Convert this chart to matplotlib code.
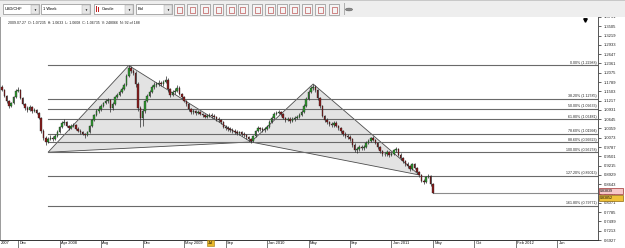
import matplotlib
matplotlib.use('Agg')
import matplotlib.pyplot as plt
from matplotlib.patches import Rectangle, Polygon
import numpy as np

plt.rcParams['font.family'] = ['Liberation Sans', 'DejaVu Sans']

# weekly USD/CHF candles
first_open = 1.1637
closes = [1.1545, 1.1360, 1.1206, 1.1052, 1.1144, 1.1329, 1.1514, 1.1545, 1.1298, 1.1114,
          1.0991, 1.0929, 1.1021, 1.0898, 1.0929, 1.0837, 1.0683, 1.0283, 1.0068, 0.9944,
          1.0037, 1.0068, 1.0037, 1.0129, 1.0252, 1.0406, 1.0529, 1.0560, 1.0437, 1.0375,
          1.0437, 1.0468, 1.0344, 1.0283, 1.0252, 1.0191, 1.0160, 1.0252, 1.0437, 1.0621,
          1.0775, 1.0898, 1.0960, 1.1052, 1.1144, 1.1206, 1.1237, 1.0991, 1.1114, 1.1329,
          1.1391, 1.1483, 1.1575, 1.1698, 1.1975, 1.2221, 1.2129, 1.2067, 1.1729, 1.0991,
          1.0683, 1.0898, 1.1206, 1.1360, 1.1483, 1.1637, 1.1698, 1.1729, 1.1760, 1.1729,
          1.1791, 1.1852, 1.1575, 1.1391, 1.1483, 1.1514, 1.1606, 1.1421, 1.1329, 1.1206,
          1.1114, 1.0960, 1.0868, 1.0898, 1.0837, 1.0868, 1.0806, 1.0775, 1.0714, 1.0744,
          1.0775, 1.0744, 1.0714, 1.0652, 1.0621, 1.0560, 1.0406, 1.0375, 1.0344, 1.0314,
          1.0283, 1.0252, 1.0221, 1.0240, 1.0191, 1.0160, 1.0098, 1.0037, 0.9975, 1.0129,
          1.0283, 1.0375, 1.0344, 1.0314, 1.0344, 1.0406, 1.0560, 1.0683, 1.0806, 1.0837,
          1.0868, 1.0806, 1.0683, 1.0621, 1.0652, 1.0591, 1.0652, 1.0683, 1.0714, 1.0775,
          1.0868, 1.1052, 1.1268, 1.1483, 1.1606, 1.1637, 1.1545, 1.1298, 1.1052, 1.0744,
          1.0621, 1.0560, 1.0498, 1.0470, 1.0530, 1.0437, 1.0375, 1.0283, 1.0191, 1.0129,
          1.0098, 1.0037, 0.9852, 0.9698, 0.9720, 0.9791, 0.9760, 0.9791, 0.9914, 0.9975,
          1.0068, 1.0006, 0.9914, 0.9791, 0.9667, 0.9575, 0.9560, 0.9637, 0.9544, 0.9575,
          0.9698, 0.9729, 0.9544, 0.9452, 0.9360, 0.9267, 0.9206, 0.9114, 0.9267, 0.9144,
          0.9021, 0.8929, 0.8744, 0.8713, 0.8867, 0.8898, 0.8652, 0.8375]
highs = [1.1700, 1.1580, 1.1400, 1.1240, 1.1190, 1.1370, 1.1560, 1.1640, 1.1580, 1.1340,
         1.1150, 1.1050, 1.1080, 1.1060, 1.0990, 1.0970, 1.0870, 1.0720, 1.0330, 1.0120,
         1.0090, 1.0150, 1.0120, 1.0180, 1.0300, 1.0450, 1.0590, 1.0640, 1.0600, 1.0480,
         1.0490, 1.0530, 1.0500, 1.0390, 1.0330, 1.0290, 1.0230, 1.0290, 1.0470, 1.0660,
         1.0820, 1.0950, 1.1040, 1.1100, 1.1190, 1.1270, 1.1300, 1.1280, 1.1170, 1.1370,
         1.1460, 1.1540, 1.1630, 1.1750, 1.2030, 1.2299, 1.2280, 1.2200, 1.2120, 1.1780,
         1.1050, 1.0960, 1.1250, 1.1420, 1.1540, 1.1700, 1.1780, 1.1800, 1.1840, 1.1810,
         1.1860, 1.1960, 1.1900, 1.1610, 1.1540, 1.1600, 1.1700, 1.1660, 1.1460, 1.1370,
         1.1250, 1.1150, 1.1000, 1.0960, 1.0940, 1.0930, 1.0910, 1.0850, 1.0820, 1.0800,
         1.0840, 1.0830, 1.0790, 1.0750, 1.0700, 1.0660, 1.0590, 1.0460, 1.0430, 1.0390,
         1.0360, 1.0330, 1.0310, 1.0290, 1.0280, 1.0240, 1.0190, 1.0130, 1.0080, 1.0170,
         1.0320, 1.0430, 1.0410, 1.0390, 1.0400, 1.0460, 1.0610, 1.0730, 1.0860, 1.0900,
         1.0940, 1.0900, 1.0840, 1.0720, 1.0710, 1.0700, 1.0700, 1.0750, 1.0770, 1.0830,
         1.0920, 1.1110, 1.1320, 1.1530, 1.1680, 1.1729, 1.1700, 1.1590, 1.1330, 1.1090,
         1.0780, 1.0670, 1.0600, 1.0560, 1.0580, 1.0590, 1.0480, 1.0410, 1.0320, 1.0240,
         1.0180, 1.0150, 1.0080, 0.9900, 0.9790, 0.9850, 0.9840, 0.9860, 0.9960, 1.0040,
         1.0100, 1.0120, 1.0050, 0.9950, 0.9820, 0.9700, 0.9640, 0.9690, 0.9680, 0.9640,
         0.9740, 0.9780, 0.9760, 0.9590, 0.9490, 0.9400, 0.9320, 0.9240, 0.9310, 0.9300,
         0.9180, 0.9060, 0.8960, 0.8800, 0.8900, 0.8950, 0.8930, 0.8680]
lows = [1.1500, 1.1320, 1.1150, 1.1000, 1.1020, 1.1110, 1.1300, 1.1470, 1.1260, 1.1080,
        1.0940, 1.0880, 1.0900, 1.0850, 1.0860, 1.0790, 1.0640, 1.0230, 1.0000, 0.9850,
        0.9900, 0.9990, 0.9980, 1.0000, 1.0100, 1.0220, 1.0380, 1.0480, 1.0400, 1.0320,
        1.0330, 1.0400, 1.0300, 1.0240, 1.0200, 1.0150, 1.0080, 1.0120, 1.0220, 1.0400,
        1.0590, 1.0740, 1.0850, 1.0910, 1.1010, 1.1100, 1.1150, 1.0870, 1.0940, 1.1090,
        1.1290, 1.1350, 1.1440, 1.1540, 1.1660, 1.1940, 1.2060, 1.2000, 1.1650, 1.0900,
        1.0400, 1.0450, 1.0850, 1.1170, 1.1320, 1.1440, 1.1590, 1.1640, 1.1680, 1.1660,
        1.1680, 1.1750, 1.1480, 1.1330, 1.1350, 1.1420, 1.1470, 1.1380, 1.1280, 1.1160,
        1.1060, 1.0910, 1.0810, 1.0820, 1.0780, 1.0800, 1.0760, 1.0720, 1.0670, 1.0680,
        1.0700, 1.0690, 1.0650, 1.0600, 1.0570, 1.0510, 1.0360, 1.0320, 1.0290, 1.0260,
        1.0220, 1.0200, 1.0170, 1.0150, 1.0140, 1.0100, 1.0040, 0.9970, 0.9914, 0.9950,
        1.0100, 1.0250, 1.0290, 1.0260, 1.0260, 1.0300, 1.0380, 1.0530, 1.0650, 1.0760,
        1.0790, 1.0750, 1.0640, 1.0570, 1.0580, 1.0540, 1.0550, 1.0600, 1.0640, 1.0680,
        1.0740, 1.0840, 1.1020, 1.1230, 1.1450, 1.1540, 1.1480, 1.1250, 1.1000, 1.0700,
        1.0560, 1.0500, 1.0440, 1.0420, 1.0400, 1.0390, 1.0320, 1.0230, 1.0140, 1.0080,
        1.0040, 0.9980, 0.9800, 0.9640, 0.9620, 0.9680, 0.9700, 0.9710, 0.9760, 0.9880,
        0.9940, 0.9960, 0.9870, 0.9740, 0.9620, 0.9520, 0.9500, 0.9520, 0.9490, 0.9500,
        0.9540, 0.9650, 0.9500, 0.9400, 0.9310, 0.9220, 0.9150, 0.9050, 0.9080, 0.9100,
        0.8980, 0.8880, 0.8700, 0.8650, 0.8680, 0.8830, 0.8600, 0.8360]
opens = [first_open] + closes[:-1]

# harmonic pattern X, A, B, C, D (candle index / price)
pattern_idx = [20, 55, 108, 135, 181]
pattern_px = [0.9628, 1.22988, 0.9944, 1.1729, 0.8930]

fib_names = ['0.00%', '38.20%', '50.00%', '61.80%', '78.60%', '88.60%', '100.00%', '127.20%', '161.80%']
fib_prices = [1.22988, 1.12785, 1.09633, 1.06481, 1.01994, 0.99323, 0.96278, 0.89013, 0.79771]

price_ticks = [1.3791, 1.3505, 1.3219, 1.2933, 1.2647, 1.2361, 1.2075, 1.1789, 1.1503,
               1.1217, 1.0931, 1.0645, 1.0359, 1.0073, 0.9787, 0.9501, 0.9215, 0.8929,
               0.8643, 0.8357, 0.8071, 0.7785, 0.7499, 0.7213, 0.6927]

date_idx = [7, 25, 43, 61, 79, 97, 115, 133, 151, 169, 187, 205, 223, 241]
date_names = ['Dec', 'Apr 2008', 'Aug', 'Dec', 'May 2009', 'Sep', 'Jan 2010', 'May', 'Sep',
              'Jan 2011', 'May', 'Oct', 'Feb 2012', 'Jun']
cursor_idx = 89
cursor_name = 'Jul'

header = '2009.07.27  O: 1.07235  H: 1.0633  L: 1.0608  C: 1.06735  V: 248066  N: 92 of 188'
bid_box = '0.83839'
ask_box = '0.83852'

W, H = 625, 248
fig = plt.figure(figsize=(W / 100, H / 100), dpi=100)
fig.patch.set_facecolor('white')


def px_rect(x, y, w, h, **kw):
    r = Rectangle((x / W, 1 - (y + h) / H), w / W, h / H, transform=fig.transFigure, **kw)
    fig.add_artist(r)
    return r


def px_text(x, y, s, **kw):
    fig.text(x / W, 1 - y / H, s, **kw)


ax = fig.add_axes([0, 8 / H, 598 / W, 223 / H])
x0, x1 = -0.87, 258.6
ax.set_xlim(x0, x1)
ax.set_ylim(0.6927, 1.3791)

# pattern triangles
X, A, B, C, D = list(zip(pattern_idx, pattern_px))
for tri in ([X, A, B], [B, C, D]):
    ax.add_patch(Polygon(tri, closed=True, fc='#e3e3e3', ec='#4d4d4d', lw=0.6, zorder=1))

# fibonacci levels
for name, p in zip(fib_names, fib_prices):
    ax.plot([pattern_idx[0], x1], [p, p], color='#6a6a6a', lw=0.8, zorder=2)
    ax.text(x1 - 0.6, p + 0.0012, '%s (%.5f)' % (name, p), ha='right', va='bottom',
            fontsize=2.6, color='#222222', zorder=6)

# candles
xs = np.arange(len(closes))
o = np.array(opens)
c = np.array(closes)
hi = np.array(highs)
lo = np.array(lows)
up = c >= o
ax.vlines(xs, lo, hi, color='#2a2a2a', lw=0.5, zorder=3)
ax.bar(xs[up], (c - o)[up], bottom=o[up], width=0.65, color='#2f9a2f',
       edgecolor='#1c1c1c', lw=0.25, zorder=4)
ax.bar(xs[~up], (o - c)[~up], bottom=c[~up], width=0.65, color='#8a1c1c',
       edgecolor='#1c1c1c', lw=0.25, zorder=4)

# last price line
ax.plot([xs[-1], x1], [closes[-1], closes[-1]], color='#8c8c8c', lw=0.8, zorder=2)

# axes styling
ax.spines['top'].set_visible(False)
ax.spines['left'].set_color('#9a9a9a')
ax.spines['right'].set_color('#555555')
ax.spines['bottom'].set_color('#333333')
for s in ax.spines.values():
    s.set_linewidth(0.7)

ax.yaxis.tick_right()
ax.set_yticks(price_ticks)
ax.set_yticklabels(['%.4f' % t for t in price_ticks])
ax.tick_params(axis='y', direction='out', length=2.5, width=0.5, labelsize=3.0, pad=1.5,
               colors='#222222')
ax.set_xticks([])

xt = ax.get_xaxis_transform()
for i, name in zip(date_idx, date_names):
    ax.plot([i, i], [0, -8 / 223], transform=xt, color='#444444', lw=0.5, clip_on=False)
    ax.text(i + 0.5, -0.006, name, transform=xt, ha='left', va='top', fontsize=2.9,
            color='#111111', clip_on=False)
ax.text(-0.5, -0.006, '2007', transform=xt, ha='left', va='top', fontsize=2.9, clip_on=False)
ax.text(cursor_idx + 0.5, -0.006, cursor_name, transform=xt, ha='left', va='top', fontsize=2.9,
        clip_on=False, zorder=8,
        bbox=dict(boxstyle='square,pad=0.25', fc='#e8b82a', ec='#a07810', lw=0.4))

# price boxes on the right scale
px_rect(599, 188, 24, 6, fc='#f6c8c8', ec='#a03030', lw=0.5, zorder=9)
px_text(600, 191, bid_box, fontsize=2.6, va='center', zorder=10)
px_rect(599, 195, 24, 6, fc='#efc23a', ec='#906a10', lw=0.5, zorder=9)
px_text(600, 198, ask_box, fontsize=2.6, va='center', zorder=10)

# small marker top right
ax.plot([585 / 598], [(240 - 20) / 223], marker='v', ms=2.5, color='black',
        transform=ax.transAxes, clip_on=False)

# header line
px_text(8, 23, header, fontsize=2.6, va='center', color='#222222')

# toolbar
px_rect(0, 0, W, 17, fc='#eeeeee', ec='none', zorder=5)
px_rect(0, 16.5, W, 0.8, fc='#9a9a9a', ec='none', zorder=6)
px_rect(0, 0, W, 1, fc='#c8c8c8', ec='none', zorder=6)
combos = [(3, 36, 'USD/CHF'), (41, 49, '1 Week'), (94, 39, 'Candle'), (136, 36, 'Bid')]
for cx, cw, label in combos:
    px_rect(cx, 4, cw, 10, fc='white', ec='#8c8c8c', lw=0.5, zorder=7)
    px_rect(cx + cw - 8, 4.5, 7.5, 9, fc='#e6e6e6', ec='#a8a8a8', lw=0.3, zorder=8)
    px_text(cx + cw - 4.2, 9.5, '\u25BC', fontsize=2.2, ha='center', va='center', zorder=9)
    tx = cx + 2
    if label == 'Candle':
        px_rect(cx + 2, 6, 1, 6, fc='#c02020', ec='none', zorder=8)
        px_rect(cx + 4, 7, 1, 5, fc='#c02020', ec='none', zorder=8)
        tx = cx + 8
    px_text(tx, 9.5, label, fontsize=2.9, va='center', zorder=9)

buttons = [174, 187, 200, 213, 226, 238, 252, 265, 277, 289, 302, 315, 329]
for bx in buttons:
    px_rect(bx, 4, 10, 11, fc='#f5f5f5', ec='#8f8f8f', lw=0.5, zorder=7)
    px_rect(bx + 2.5, 6.5, 5, 6, fc='none', ec='#b03030', lw=0.4, zorder=8)
px_rect(344, 3, 0.6, 12, fc='#b0b0b0', ec='none', zorder=7)
gear = plt.Circle((349 / W, 1 - 9.5 / H), 3.5 / W, transform=fig.transFigure,
                  fc='#8a8a8a', ec='#606060', lw=0.4, zorder=8)
fig.add_artist(gear)

fig.savefig('out.png', dpi=100)
